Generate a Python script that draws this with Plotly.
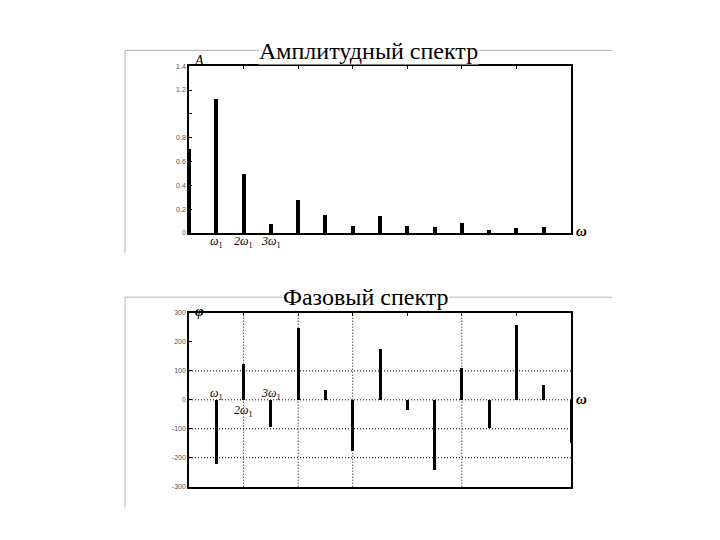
import plotly.graph_objects as go

# ---- data ----
harmonics = list(range(0, 15))
amplitude = [0.707, 1.127, 0.49, 0.077, 0.273, 0.152, 0.058, 0.143, 0.058, 0.05, 0.083, 0.025, 0.041, 0.05, 0.0]
phase = [0, -220, 124, -92, 249, 35, -175, 175, -35, -243, 109, -98, 257, 52, -149]

amp_tickvals = [0, 0.2, 0.4, 0.6, 0.8, 1.0, 1.2, 1.4]
amp_ticktext = ["0", "0.2", "0.4", "0.6", "0.8", "", "1.2", "1.4"]
ph_tickvals = [-300, -200, -100, 0, 100, 200, 300]
ph_ticktext = ["-300", "-200", "-100", "0", "100", "200", "300"]
ph_hgrid = [100, 0, -100, -200]
ph_vgrid = [2, 4, 6, 10]

W, H = 720, 540
def px(x): return x / W
def py(y): return 1 - y / H

fig = go.Figure()
fig.add_trace(go.Bar(x=harmonics, y=amplitude, width=0.15, marker=dict(color="black", line=dict(width=0)),
                     xaxis="x", yaxis="y", showlegend=False))
fig.add_trace(go.Bar(x=harmonics, y=phase, width=0.11, marker=dict(color="black", line=dict(width=0)),
                     xaxis="x2", yaxis="y2", showlegend=False))

xdom = [px(189), px(571)]
axis_common = dict(showline=True, linecolor="black", linewidth=1.5, mirror=True, showgrid=False, zeroline=False)
tickfont = dict(size=7, color="#555", family="Arial")

fig.update_layout(
    width=W, height=H, margin=dict(l=0, r=0, t=0, b=0),
    paper_bgcolor="white", plot_bgcolor="white", bargap=0,
    xaxis=dict(domain=xdom, range=[0, 14], side="top", tickvals=[2, 4, 6, 8, 10, 12], ticks="inside",
               ticklen=3, tickcolor="black", showticklabels=False, anchor="y", **axis_common),
    yaxis=dict(domain=[py(232), py(63)], range=[0, 1.4], tickvals=amp_tickvals, ticktext=amp_ticktext,
               ticks="inside", ticklen=3, tickcolor="black", anchor="x", tickfont=tickfont, **axis_common),
    xaxis2=dict(domain=xdom, range=[0, 14], side="top", tickvals=[2, 4, 6, 8, 10, 12], ticks="inside",
                ticklen=3, tickcolor="black", showticklabels=False, anchor="y2", **axis_common),
    yaxis2=dict(domain=[py(489), py(313)], range=[-300, 300], tickvals=ph_tickvals, ticktext=ph_ticktext,
                ticks="inside", ticklen=3, tickcolor="black", anchor="x2", tickfont=tickfont, **axis_common),
)

shapes = []
# light gray frames
for ytop, ybot in [(47, 252), (297, 510)]:
    shapes.append(dict(type="line", xref="paper", yref="paper", x0=px(125), x1=px(612), y0=py(ytop), y1=py(ytop),
                       line=dict(color="#b0b0b0", width=1), layer="below"))
    shapes.append(dict(type="line", xref="paper", yref="paper", x0=px(125), x1=px(125), y0=py(ytop), y1=py(ybot),
                       line=dict(color="#b0b0b0", width=1), layer="below"))
# dotted grid on phase chart
for v in ph_hgrid:
    shapes.append(dict(type="line", xref="x2 domain", yref="y2", x0=0, x1=1, y0=v, y1=v,
                       line=dict(color="black", width=1, dash="1px,2px"), layer="below"))
for v in ph_vgrid:
    shapes.append(dict(type="line", xref="x2", yref="y2 domain", x0=v, x1=v, y0=0, y1=1,
                       line=dict(color="black", width=1, dash="1px,2px"), layer="below"))
fig.update_layout(shapes=shapes)

serif = "Liberation Serif, Times New Roman, serif"
ann = []

def add(text, x, y, size, xref="paper", yref="paper", **kw):
    ann.append(dict(text=text, x=x, y=y, xref=xref, yref=yref, showarrow=False, xanchor="center",
                    yanchor="middle", font=dict(family=serif, size=size, color="black"), **kw))

add("Амплитудный спектр", px(368), py(48), 24, bgcolor="white", borderpad=0)
add("Фазовый спектр", px(366), py(297), 24, bgcolor="white", borderpad=0)

def w1(n):
    return "<i>" + (f"{n}" if n else "") + "ω</i><sub>1</sub>"

for n, xx in [(0, 1), (2, 2), (3, 3)]:
    add(w1(n), xx, py(241), 12, xref="x")
add("<i>A</i>", px(199), py(57), 14)
add("<b><i>ω</i></b>", px(581), py(230), 15)

add(w1(0), 1, py(395), 12, xref="x2")
add(w1(2), 2, py(412), 12, xref="x2")
add(w1(3), 3, py(395), 12, xref="x2")
add("<b><i>φ</i></b>", px(199), py(311), 15)
add("<b><i>ω</i></b>", px(581), py(400), 15)
fig.update_layout(annotations=ann)

fig.write_html("out.html")
